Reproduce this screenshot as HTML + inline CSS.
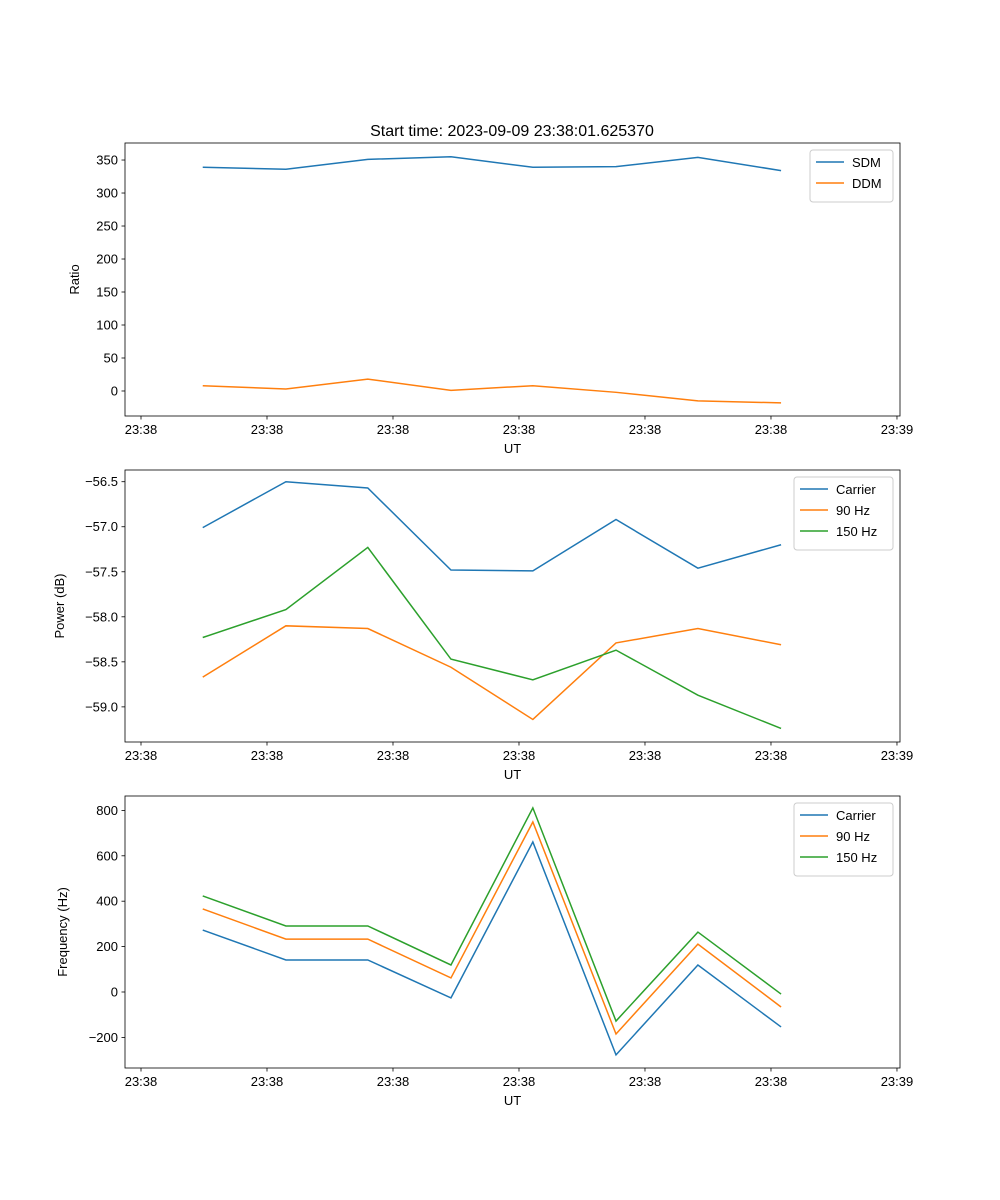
<!DOCTYPE html>
<html><head><meta charset="utf-8"><style>
body{margin:0;background:#fff}
svg{display:block;font-family:"Liberation Sans","DejaVu Sans",sans-serif}
</style></head><body>
<svg id="fig" width="1000" height="1200" viewBox="0 0 1000 1200"></svg>
<script>
const times=[0.49,1.15,1.80,2.46,3.11,3.77,4.42,5.08];
const xTicks=[0,1,2,3,4,5,6];
const xTickLabels=["23:38","23:38","23:38","23:38","23:38","23:38","23:39"];
const sdm=[339,336,351,355,339,340,354,334];
const ddm=[8,3,18,1,8,-2,-15,-18];
const pCarrier=[-57.01,-56.50,-56.57,-57.48,-57.49,-56.92,-57.46,-57.20];
const p90=[-58.67,-58.10,-58.13,-58.56,-59.14,-58.29,-58.13,-58.31];
const p150=[-58.23,-57.92,-57.23,-58.47,-58.70,-58.37,-58.87,-59.24];
const fCarrier=[273,141,141,-26,661,-277,119,-154];
const f90=[366,233,233,62,749,-185,211,-66];
const f150=[423,291,291,119,811,-128,264,-9];
const ticks1=[0,50,100,150,200,250,300,350];
const ticks2=[-59.0,-58.5,-58.0,-57.5,-57.0,-56.5];
const ticks3=[-200,0,200,400,600,800];

const NS="http://www.w3.org/2000/svg";
const svg=document.getElementById('fig');
function mk(t,a,p){const e=document.createElementNS(NS,t);for(const k in a)e.setAttribute(k,a[k]);(p||svg).appendChild(e);return e;}
const L=125,R=900,X0=-0.127,X1=6.024;
function xs(t){return L+(t-X0)/(X1-X0)*(R-L);}
const cols=["#1f77b4","#ff7f0e","#2ca02c"];

function panel(name,top,bot,y0,y1,yt,fmt,ylabel,series,names,leg){
  const g=mk('g',{});
  
  
  const ys=v=>bot-(v-y0)/(y1-y0)*(bot-top);
  series.forEach((s,i)=>{
    const pl=mk('polyline',{points:s.map((v,j)=>xs(times[j])+','+ys(v)).join(' '),fill:'none',stroke:cols[i],'stroke-width':1.5},g);
    
    
  });
  mk('rect',{x:L,y:top,width:R-L,height:bot-top,fill:'none',stroke:'#000','stroke-width':0.8},g);
  xTicks.forEach((t,i)=>{
    const x=xs(t);
    mk('line',{x1:x,x2:x,y1:bot,y2:bot+3.5,stroke:'#000','stroke-width':0.8},g);
    const tx=mk('text',{x:x,y:bot+18,'text-anchor':'middle','font-size':13},g);tx.textContent=xTickLabels[i];
    
    
  });
  yt.forEach(v=>{
    const y=ys(v);
    mk('line',{x1:L,x2:L-3.5,y1:y,y2:y,stroke:'#000','stroke-width':0.8},g);
    const tx=mk('text',{x:L-7,y:y+4.5,'text-anchor':'end','font-size':13},g);tx.textContent=fmt(v);
    
    
  });
  const xl=mk('text',{x:(L+R)/2,y:bot+37,'text-anchor':'middle','font-size':13},g);xl.textContent='UT';
  
  
  const yl=mk('text',{x:0,y:0,'text-anchor':'middle','font-size':13,transform:`translate(${ylabel[1]},${(top+bot)/2}) rotate(-90)`},g);yl.textContent=ylabel[0];
  
  
  const lg=mk('g',{},g);
  
  
  mk('rect',{x:leg[0],y:top+7,width:893-leg[0],height:10+names.length*21,fill:'#fff',stroke:'#ccc',rx:3},lg);
  names.forEach((n,i)=>{
    const y=top+19+i*21;
    mk('line',{x1:leg[0]+6,x2:leg[0]+34,y1:y,y2:y,stroke:cols[i],'stroke-width':1.5},lg);
    const t=mk('text',{x:leg[0]+42,y:y+5,'font-size':13},lg);t.textContent=n;
    
    
  });
}
const ttl=mk('text',{x:512,y:136,'text-anchor':'middle','font-size':16});ttl.textContent='Start time: 2023-09-09 23:38:01.625370';


panel('ratio-panel',143,416,-37.9,375.8,ticks1,v=>String(v),['Ratio',79],[sdm,ddm],['SDM','DDM'],[810]);
panel('power-panel',470,742,-59.39,-56.37,ticks2,v=>v.toFixed(1).replace('-','\u2212'),['Power (dB)',64],[pCarrier,p90,p150],['Carrier','90 Hz','150 Hz'],[794]);
panel('frequency-panel',796,1068,-334.8,863.4,ticks3,v=>String(v).replace('-','\u2212'),['Frequency (Hz)',67],[fCarrier,f90,f150],['Carrier','90 Hz','150 Hz'],[794]);
</script>
</body></html>
